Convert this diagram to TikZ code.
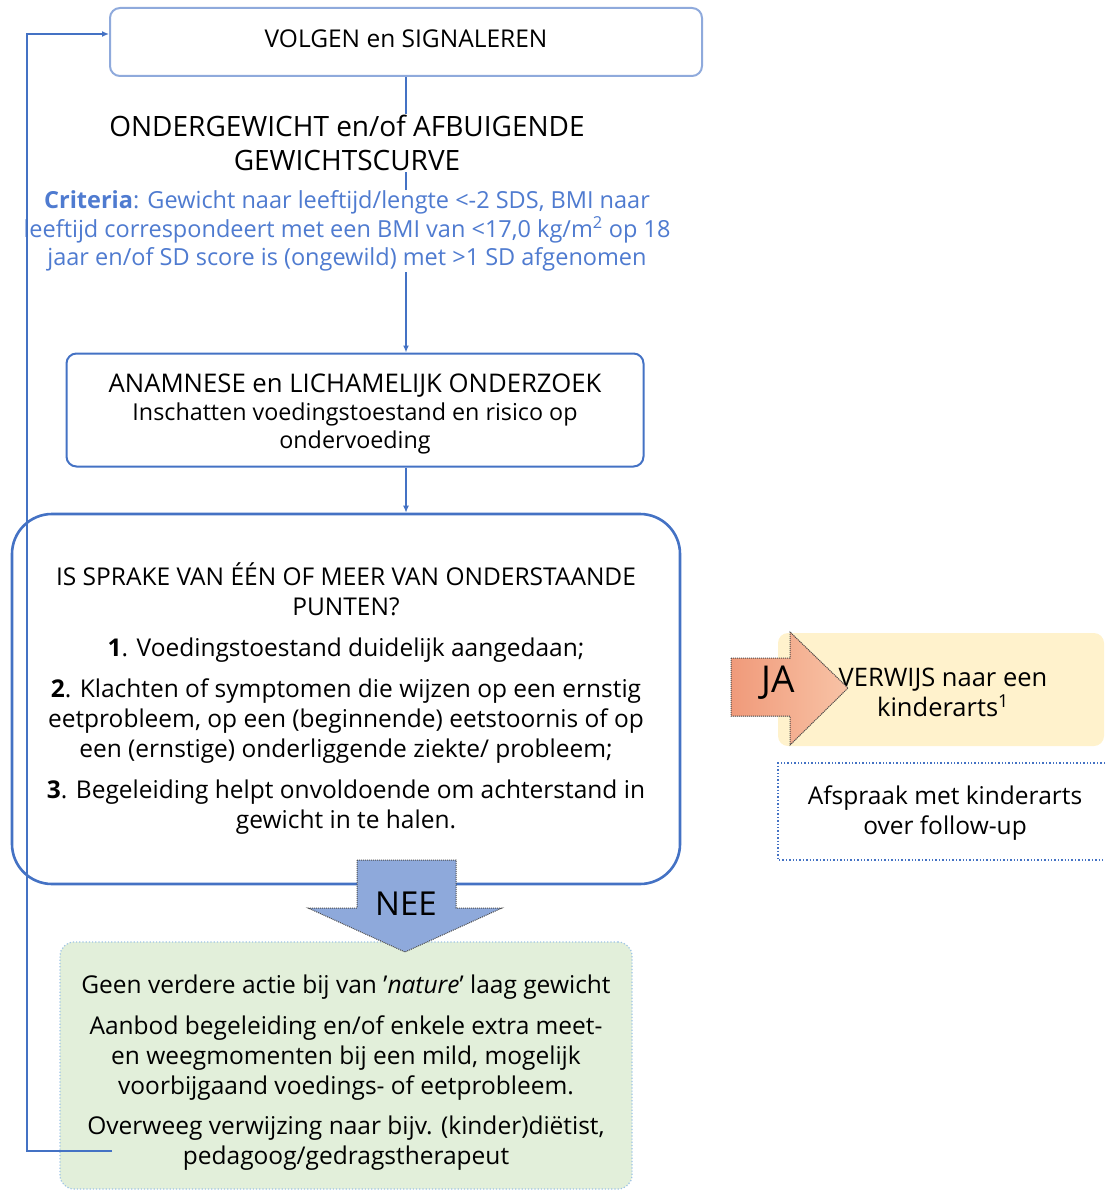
\documentclass[tikz,border=0pt]{standalone}
\usepackage{fontspec}
\setmainfont{Open Sans}
\usetikzlibrary{arrows.meta,backgrounds}

\definecolor{lijnblauw}{HTML}{4472C4}
\definecolor{lichtblauw}{HTML}{8FAADC}
\definecolor{criteriablauw}{HTML}{4F7BD0}
\definecolor{neeblauw}{HTML}{8EA9DB}
\definecolor{groenvlak}{HTML}{E2EFDA}
\definecolor{groenrand}{HTML}{9DC3E6}
\definecolor{geelvlak}{HTML}{FFF2CC}
\definecolor{zalmdonker}{HTML}{F09A7A}
\definecolor{zalmlicht}{HTML}{F8C3A6}

\begin{document}
\begin{tikzpicture}[x=1pt, y=-1pt, >={Latex[length=7pt,width=6pt]},
    kader/.style={draw=lijnblauw, line width=2pt, rounded corners=10pt},
    tekst/.style={font=\fontsize{24.5}{30}\selectfont, align=center},
    pijl/.style={draw=lijnblauw, line width=1.6pt, ->}]
    \useasboundingbox (0,0) rectangle (1105,1190);

    % Boxes
    \node[kader, draw=lichtblauw, minimum width=592pt, minimum height=68pt] (volgen) at (406,42) {};
    \node[font=\fontsize{24.5}{30}\selectfont] (volgentekst) at (406,39) {VOLGEN en SIGNALEREN};

    \node[fill=white, inner sep=1pt, align=center, font=\fontsize{28}{34}\selectfont]
        (onder) at (347,143) {ONDERGEWICHT en/of AFBUIGENDE\\GEWICHTSCURVE};
    \node[fill=white, inner sep=1pt, tekst, font=\fontsize{23.5}{28.5}\selectfont, text=criteriablauw]
        (criteria) at (347,231) {\textbf{Criteria}: Gewicht naar leeftijd/lengte <-2 SDS, BMI naar\\
        leeftijd correspondeert met een BMI van <17,0 kg/m\textsuperscript{2} op 18\\
        jaar en/of SD score is (ongewild) met >1 SD afgenomen};

    \node[kader, minimum width=577pt, minimum height=113pt] (anamnese) at (355,410) {};
    \node[tekst, font=\fontsize{23.3}{28}\selectfont] (anamnesetekst) at (355,414)
        {{\fontsize{25.7}{30}\selectfont ANAMNESE en LICHAMELIJK ONDERZOEK}\\
        Inschatten voedingstoestand en risico op\\ondervoeding};

    \node[kader, line width=2.6pt, rounded corners=40pt, minimum width=668pt, minimum height=370pt, tekst]
        (vraag) at (346,699) {IS SPRAKE VAN ÉÉN OF MEER VAN ONDERSTAANDE\\PUNTEN?\\[11pt]
        \textbf{1}. Voedingstoestand duidelijk aangedaan;\\[11pt]
        \textbf{2}. Klachten of symptomen die wijzen op een ernstig\\
        eetprobleem, op een (beginnende) eetstoornis of op\\
        een (ernstige) onderliggende ziekte/ probleem;\\[11pt]
        \textbf{3}. Begeleiding helpt onvoldoende om achterstand in\\
        gewicht in te halen.};

    \node[draw=groenrand, dotted, line width=1.2pt, fill=groenvlak, rounded corners=14pt,
        minimum width=572pt, minimum height=247pt] (geen) at (346,1065.5) {};
    \node[tekst] (geentekst) at (346,1073) {Geen verdere actie bij van '\textit{nature}' laag gewicht\\[11pt]
        Aanbod begeleiding en/of enkele extra meet-\\
        en weegmomenten bij een mild, mogelijk\\
        voorbijgaand voedings- of eetprobleem.\\[10pt]
        Overweeg verwijzing naar bijv. (kinder)diëtist,\\
        pedagoog/gedragstherapeut};

    \node[fill=geelvlak, rounded corners=10pt, minimum width=326pt, minimum height=113pt]
        (verwijs) at (941,689.5) {};
    \node[tekst, font=\fontsize{25.5}{30}\selectfont] (verwijstekst) at (943,692.5)
        {VERWIJS naar een\\kinderarts\textsuperscript{1}};

    \draw[lijnblauw, dotted, line width=1.4pt] (1105,763) -- (778,763) -- (778,860) -- (1105,860);
    \node[tekst] (afspraak) at (945,813) {Afspraak met kinderarts\\over follow-up};

    % Big arrows
    \filldraw[fill=neeblauw, draw=black!70, densely dotted, line width=1pt]
        (357,860) -- (456,860) -- (456,908) -- (502,908) -- (405,952) -- (308,908) -- (357,908) -- cycle;
    \node[font=\fontsize{33}{33}\selectfont] (nee) at (406,904) {NEE};

    \filldraw[left color=zalmdonker, right color=zalmlicht, draw=black!70, densely dotted, line width=1pt]
        (731,658) -- (790,658) -- (790,632) -- (848,688) -- (790,745) -- (790,716) -- (731,716) -- cycle;
    \node[font=\fontsize{37}{37}\selectfont] (ja) at (778,683) {JA};

    % Connectors
    \begin{scope}[on background layer]
        \draw[pijl] (volgen.south) -- (volgen.south |- anamnese.north);
    \end{scope}
    \draw[pijl] (anamnese.south -| volgen.south) -- (vraag.north -| volgen.south);

    \coordinate (terug) at (112,1151);
    \draw[pijl, line width=2.2pt] (terug) -- (27,1151) |- ([yshift=8pt]volgen.west);
\end{tikzpicture}
\end{document}
